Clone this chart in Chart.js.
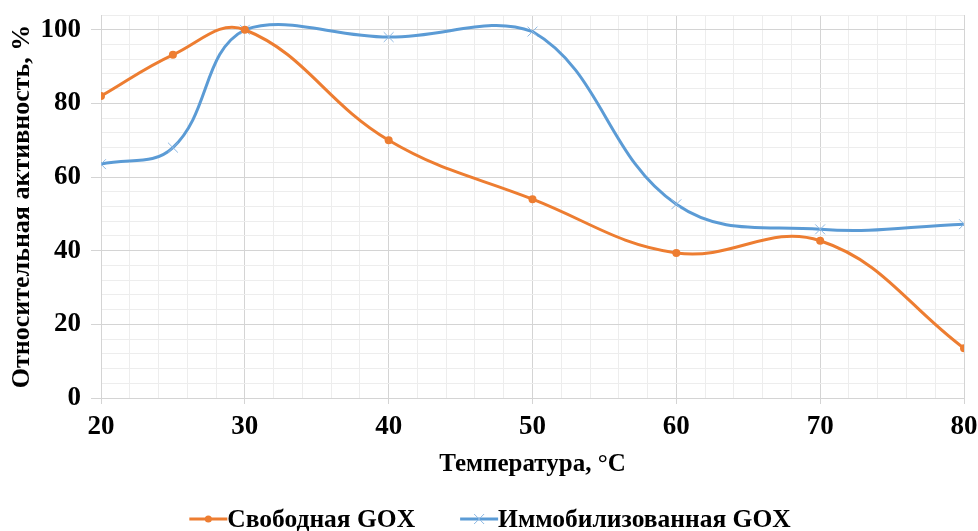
<!DOCTYPE html>
<html>
<head>
<meta charset="utf-8">
<script src="https://cdn.jsdelivr.net/npm/chart.js@4/dist/chart.umd.min.js"></script>
<style>
  html, body { margin: 0; padding: 0; background: #fff; }
  #wrap { width: 978px; height: 531px; position: relative; }
</style>
</head>
<body>
<div id="wrap"><canvas id="c" width="978" height="531"></canvas></div>
<script>
// Temperature (°C) and relative activity (%) of free and immobilized GOX
const temperatures = [20, 25, 30, 40, 50, 60, 70, 80];
const freeGox = [82, 93.2, 100, 70, 54, 39.4, 42.7, 13.5];
const immobilizedGox = [63.5, 68, 100, 98, 99.5, 52.6, 45.8, 47.2];
const seriesNames = ['Свободная GOX', 'Иммобилизованная GOX'];
const xTitle = 'Температура, °C';
const yTitle = 'Относительная активность, %';

const ORANGE = '#ED7D31';
const BLUE = '#5B9BD5';
const CROSS = '#8db8e3';
const FONT = '"Liberation Serif", "Times New Roman", serif';

// Bottom legend: a short line with the series marker, label text right after it
const lineLegend = {
  id: 'lineLegend',
  afterDraw(chart) {
    const ctx = chart.ctx;
    const lineLen = 38, gap = 45;
    ctx.save();
    ctx.font = `bold 25.5px ${FONT}`;
    ctx.textBaseline = 'middle';
    const items = chart.data.datasets.map(ds => ({
      ds, w: lineLen + ctx.measureText(ds.label).width
    }));
    const total = items.reduce((s, it) => s + it.w, 0) + gap * (items.length - 1);
    let x = chart.width / 2 + 1 - total / 2;
    const y = chart.height - 12;
    items.forEach(({ ds, w }) => {
      ctx.strokeStyle = ds.borderColor;
      ctx.lineWidth = 3;
      ctx.beginPath(); ctx.moveTo(x, y); ctx.lineTo(x + lineLen, y); ctx.stroke();
      const mx = x + lineLen / 2;
      if (ds.pointStyle === 'circle') {
        ctx.fillStyle = ds.borderColor;
        ctx.beginPath(); ctx.arc(mx, y, 3.5, 0, Math.PI * 2); ctx.fill();
      } else {
        ctx.strokeStyle = CROSS; ctx.lineWidth = 1;
        ctx.beginPath();
        ctx.moveTo(mx - 5, y - 5); ctx.lineTo(mx + 5, y + 5);
        ctx.moveTo(mx + 5, y - 5); ctx.lineTo(mx - 5, y + 5);
        ctx.stroke();
      }
      ctx.fillStyle = '#000';
      ctx.textAlign = 'left';
      ctx.fillText(ds.label, x + lineLen, y + 1);
      x += w + gap;
    });
    ctx.restore();
  }
};

const toPoints = ys => temperatures.map((t, i) => ({ x: t, y: ys[i] }));

new Chart(document.getElementById('c'), {
  type: 'line',
  data: {
    datasets: [
      {
        label: seriesNames[0],
        data: toPoints(freeGox),
        borderColor: ORANGE,
        backgroundColor: ORANGE,
        borderWidth: 3,
        tension: 0.4,
        pointStyle: 'circle',
        pointRadius: 4,
        pointBorderWidth: 0,
        pointBackgroundColor: ORANGE
      },
      {
        label: seriesNames[1],
        data: toPoints(immobilizedGox),
        borderColor: BLUE,
        backgroundColor: BLUE,
        borderWidth: 3,
        tension: 0.4,
        pointStyle: 'crossRot',
        pointRadius: 7,
        pointBorderWidth: 1,
        pointBorderColor: CROSS
      }
    ]
  },
  plugins: [lineLegend],
  options: {
    responsive: false,
    animation: false,
    layout: { padding: { left: 7, right: 14, top: 15, bottom: 51 } },
    plugins: {
      tooltip: { enabled: false },
      legend: { display: false }
    },
    scales: {
      x: {
        type: 'linear',
        min: 20, max: 80,
        afterFit: s => { s.height = 82; s.paddingLeft = 0; s.paddingRight = 0; },
        ticks: {
          stepSize: 2,
          autoSkip: false,
          maxRotation: 0,
          color: '#000',
          padding: 7,
          font: { family: FONT, size: 27, weight: 'bold' },
          callback: v => (v % 10 === 0 ? v : '')
        },
        grid: {
          color: ctx => (ctx.tick && ctx.tick.value % 10 === 0 ? '#d4d4d4' : '#ededed'),
          tickColor: ctx => (ctx.tick && ctx.tick.value % 10 === 0 ? '#d4d4d4' : 'rgba(0,0,0,0)'),
          tickLength: 6
        },
        border: { color: '#d4d4d4' },
        title: {
          display: true, text: xTitle, color: '#000',
          padding: { top: 4, bottom: 0 },
          font: { family: FONT, size: 25, weight: 'bold' }
        }
      },
      y: {
        min: 0, max: 104,
        afterFit: s => { s.width = 94; s.paddingTop = 0; s.paddingBottom = 0; },
        ticks: {
          stepSize: 4,
          autoSkip: false,
          color: '#000',
          padding: 10,
          font: { family: FONT, size: 27, weight: 'bold' },
          callback: v => (v % 20 === 0 ? v : '')
        },
        grid: {
          color: ctx => (ctx.tick && ctx.tick.value % 20 === 0 ? '#d4d4d4' : '#ededed'),
          tickColor: ctx => (ctx.tick && ctx.tick.value % 20 === 0 ? '#d4d4d4' : 'rgba(0,0,0,0)'),
          tickLength: 10
        },
        border: { color: '#d4d4d4' },
        title: {
          display: true, text: yTitle, color: '#000',
          padding: { top: 0, bottom: 0 },
          font: { family: FONT, size: 26, weight: 'bold' }
        }
      }
    }
  }
});
</script>
</body>
</html>
